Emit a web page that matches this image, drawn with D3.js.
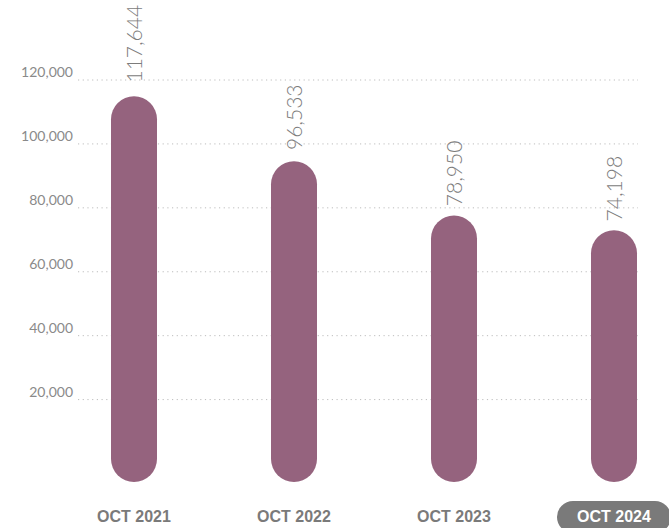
<!DOCTYPE html>
<html>
<head>
<meta charset="utf-8">
<script src="https://cdn.jsdelivr.net/npm/d3@7"></script>
<style>
  body { margin: 0; background: #fff; }
  svg { display: block; font-family: "Liberation Sans", Arial, sans-serif; }
  .num { font-family: Lato, "Liberation Sans", sans-serif; }
</style>
</head>
<body>
<svg id="chart"></svg>
<script>
// data
const categories = ['OCT 2021', 'OCT 2022', 'OCT 2023', 'OCT 2024'];
const values = [117644, 96533, 78950, 74198];
const tickValues = [20000, 40000, 60000, 80000, 100000, 120000];
const highlighted = 'OCT 2024';

const width = 669, height = 528;
const barWidth = 46;

const svg = d3.select('#chart')
    .attr('width', width)
    .attr('height', height);

// scales
const xScale = d3.scalePoint()
    .domain(categories)
    .range([134, 614]);

// grid scale
const yScale = d3.scaleLinear()
    .domain([0, 120000])
    .range([463.5, 80]);

// bars sit on a slightly shorter scale, cap hangs below zero
const yBar = d3.scaleLinear()
    .domain([0, 120000])
    .range([459, 89]);

const fmt = d3.format(',');

// gridlines + tick labels
const grid = svg.append('g');
grid.selectAll('line')
    .data(tickValues)
    .join('line')
    .attr('x1', 78)
    .attr('x2', 638)
    .attr('y1', d => yScale(d))
    .attr('y2', d => yScale(d))
    .attr('stroke', '#bdbdbd')
    .attr('stroke-width', 1)
    .attr('stroke-dasharray', '1.2,3.5');

grid.selectAll('text')
    .data(tickValues)
    .join('text')
    .attr('class', 'num')
    .attr('x', 73)
    .attr('y', d => yScale(d) - 3)
    .attr('text-anchor', 'end')
    .attr('font-size', 14)
    .attr('fill', '#8a8a8a')
    .text(d => fmt(d));

const data = categories.map((c, i) => ({cat: c, value: values[i]}));

// bars
svg.selectAll('.bar')
    .data(data)
    .join('rect')
    .attr('class', 'bar')
    .attr('x', d => xScale(d.cat) - barWidth / 2)
    .attr('y', d => yBar(d.value))
    .attr('width', barWidth)
    .attr('height', d => yBar(0) - yBar(d.value) + barWidth / 2)
    .attr('rx', barWidth / 2)
    .attr('fill', '#95637e');

// value labels, rotated
svg.selectAll('.val')
    .data(data)
    .join('text')
    .attr('class', 'val num')
    .attr('transform', d => `translate(${xScale(d.cat)},${yScale(d.value) - 5}) rotate(-90)`)
    .attr('dy', '0.36em')
    .attr('font-size', 21)
    .attr('font-weight', 300)
    .attr('fill', '#7c7c7c')
    .text(d => fmt(d.value));

// highlight pill behind current period
svg.append('rect')
    .attr('x', xScale(highlighted) - 57)
    .attr('y', 501)
    .attr('width', 114)
    .attr('height', 32)
    .attr('rx', 16)
    .attr('fill', '#7a7a7a');

// category labels
svg.selectAll('.cat')
    .data(categories)
    .join('text')
    .attr('class', 'cat')
    .attr('x', d => xScale(d))
    .attr('y', 521.5)
    .attr('text-anchor', 'middle')
    .attr('font-size', 16)
    .attr('font-weight', 'bold')
    .attr('fill', d => d === highlighted ? '#fff' : '#7a7a7a')
    .text(d => d);
</script>
</body>
</html>
